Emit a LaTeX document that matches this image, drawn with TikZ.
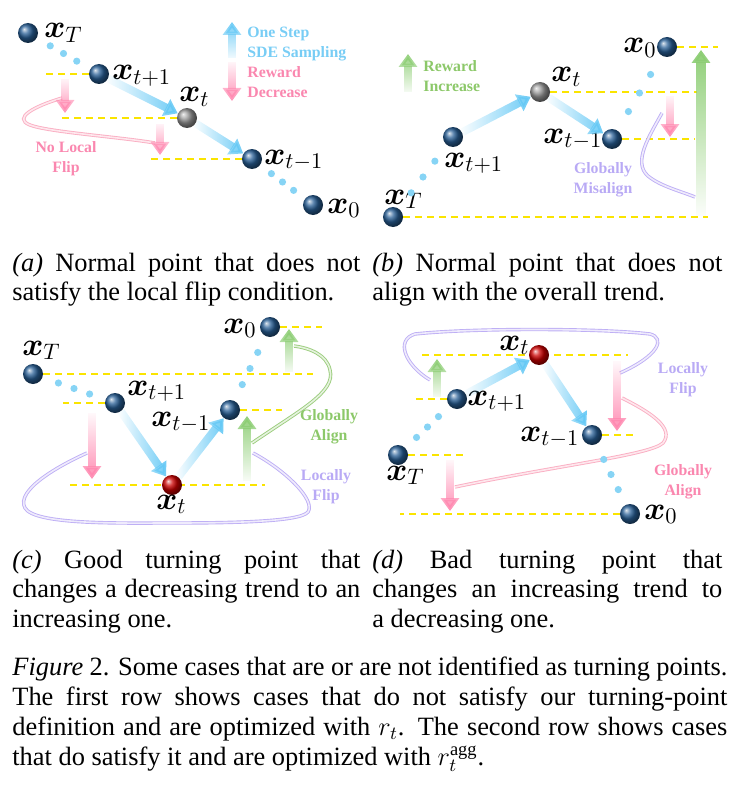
\RequirePackage{fix-cm}
\documentclass[tikz,border=0pt]{standalone}
\usepackage{amsmath}
\usepackage[no-math]{fontspec}
\setmainfont{Liberation Serif}
\usetikzlibrary{arrows.meta,fadings,backgrounds}

\definecolor{ballblue}{RGB}{40,95,150}
\definecolor{dotblue}{RGB}{135,212,245}
\definecolor{stepblue}{RGB}{100,200,245}
\definecolor{downpink}{RGB}{255,135,175}
\definecolor{upgreen}{RGB}{140,205,115}
\definecolor{lineyellow}{RGB}{250,228,0}
\definecolor{flipviolet}{RGB}{190,175,245}
\definecolor{curvepink}{RGB}{250,175,195}
\definecolor{curvegreen}{RGB}{155,205,125}
\definecolor{txtblue}{RGB}{120,205,245}
\definecolor{txtpink}{RGB}{250,135,175}
\definecolor{txtgreen}{RGB}{140,200,105}
\definecolor{txtviolet}{RGB}{185,170,245}

\tikzfading[name=fadeleft, left color=transparent!100, right color=transparent!0]
\tikzfading[name=fadetop, top color=transparent!100, bottom color=transparent!0]
\tikzfading[name=fadebottom, top color=transparent!0, bottom color=transparent!100]

\begin{document}
\begin{tikzpicture}[x=0.5pt, y=-0.5pt,
	xball/.style={circle, inner sep=0pt, minimum size=10pt, ball color=ballblue},
	midball/.style={xball, ball color=gray!80},
	turnball/.style={xball, ball color=red!80!black},
	minidot/.style={circle, inner sep=0pt, minimum size=3.6pt, fill=dotblue},
	xlab/.style={inner sep=0pt, anchor=base west, font=\fontsize{16}{18}\selectfont},
	cuetext/.style={inner sep=0pt, align=center, font=\fontsize{7.9}{10}\selectfont\bfseries},
	levelline/.style={lineyellow, line width=1.1pt, dash pattern=on 3.5pt off 2.5pt},
	stepline/.style={stepblue, line width=4pt, -{Triangle[width=9pt,length=6.5pt]}, path fading=fadeleft, fading transform={yscale=1.5}},
	droparrow/.style={downpink, line width=4pt, -{Triangle[width=9pt,length=6.5pt]}, path fading=fadetop, fading transform={xscale=4}},
	risearrow/.style={upgreen, line width=4pt, -{Triangle[width=9pt,length=6.5pt]}, path fading=fadebottom, fading transform={xscale=4}},
	flipcurve/.style={flipviolet, line width=0.45pt, double=flipviolet!25, double distance=0.8pt},
	pinkcurve/.style={flipcurve, curvepink, double=curvepink!30},
	greencurve/.style={flipcurve, curvegreen, double=curvegreen!25},
	subcap/.style={inner sep=0pt, anchor=north west, align=justify, font=\fontsize{13.2}{14.6}\selectfont}]
	\useasboundingbox (0,0) rectangle (740,797);

	% (a) no local flip
	\node (aT)  at ( 28,  33)	[xball]		{};
	\node (at1) at ( 99,  74)	[xball]		{};
	\node (at)  at (187, 118)	[midball]	{};
	\node (atm) at (252, 159)	[xball]		{};
	\node (a0)  at (313, 205)	[xball]		{};
	\node (aTl)  at ( 44,  38)	[xlab]	{$\boldsymbol{x}_{T}$};
	\node (at1l) at (112,  80)	[xlab]	{$\boldsymbol{x}_{t+1}$};
	\node (atl)  at (179, 102)	[xlab]	{$\boldsymbol{x}_{t}$};
	\node (atml) at (264, 164)	[xlab]	{$\boldsymbol{x}_{t-1}$};
	\node (a0l)  at (327, 213)	[xlab]	{$\boldsymbol{x}_{0}$};
	\coordinate (ad1) at ( 65,  79);	\coordinate (ad1e) at ( 65, 113);
	\coordinate (ad2) at (160, 124);	\coordinate (ad2e) at (160, 155);
	\coordinate (lup) at (232,  58);	\coordinate (lupe) at (232,  22);
	\coordinate (ldn) at (232,  62);	\coordinate (ldne) at (232, 101);
	\coordinate (ac1) at ( 62,  98);	\coordinate (ac2) at (155, 143);
	\node (lstep) at (247, 27)	[cuetext, anchor=north west, align=left, text=txtblue]	{One Step\\SDE Sampling};
	\node (lrew)  at (247, 66)	[cuetext, anchor=north west, align=left, text=txtpink]	{Reward\\Decrease};
	\node (aflip) at ( 66,141)	[cuetext, anchor=north, text=txtpink]	{No Local\\Flip};

	% (b) globally misaligned
	\node (bT)  at (393, 217)	[xball]		{};
	\node (bt1) at (453, 137)	[xball]		{};
	\node (bt)  at (540,  92)	[midball]	{};
	\node (btm) at (612, 139)	[xball]		{};
	\node (b0)  at (667,  47)	[xball]		{};
	\node (bTl)  at (384, 204)	[xlab]	{$\boldsymbol{x}_{T}$};
	\node (bt1l) at (444, 167)	[xlab]	{$\boldsymbol{x}_{t+1}$};
	\node (btl)  at (551,  82)	[xlab]	{$\boldsymbol{x}_{t}$};
	\node (btml) at (543, 143)	[xlab]	{$\boldsymbol{x}_{t-1}$};
	\node (b0l)  at (623,  53)	[xlab]	{$\boldsymbol{x}_{0}$};
	\coordinate (bd1) at (670,  96);	\coordinate (bd1e) at (670, 137);
	\coordinate (bg1) at (701, 216);	\coordinate (bg1e) at (701,  50);
	\coordinate (lg)  at (408,  92);	\coordinate (lge)  at (408,  54);
	\coordinate (bc1) at (662, 113);	\coordinate (bc2) at (695, 197);
	\node (linc)  at (423, 60)	[cuetext, anchor=north west, align=left, text=txtgreen]	{Reward\\Increase};
	\node (bmis)  at (603,162)	[cuetext, anchor=north, text=txtviolet]	{Globally\\Misalign};

	% (c) good turning point
	\node (cT)  at ( 33, 374)	[xball]		{};
	\node (ct1) at (115, 403)	[xball]		{};
	\node (ct)  at (172, 485)	[turnball]	{};
	\node (ctm) at (230, 410)	[xball]		{};
	\node (c0)  at (270, 327)	[xball]		{};
	\node (cTl)  at ( 22, 355)	[xlab]	{$\boldsymbol{x}_{T}$};
	\node (ct1l) at (127, 395)	[xlab]	{$\boldsymbol{x}_{t+1}$};
	\node (ctl)  at (156, 509)	[xlab]	{$\boldsymbol{x}_{t}$};
	\node (ctml) at (151, 426)	[xlab]	{$\boldsymbol{x}_{t-1}$};
	\node (c0l)  at (223, 333)	[xlab]	{$\boldsymbol{x}_{0}$};
	\coordinate (cd1) at ( 92, 413);	\coordinate (cd1e) at ( 92, 479);
	\coordinate (cg1) at (247, 481);	\coordinate (cg1e) at (247, 416);
	\coordinate (cg2) at (289, 372);	\coordinate (cg2e) at (289, 329);
	\coordinate (cc1) at (252, 443);	\coordinate (cc2) at (294, 346);
	\coordinate (cf1) at ( 87, 453);	\coordinate (cf2) at (253, 453);
	\node (calign) at (329,409)	[cuetext, anchor=north, text=txtgreen]	{Globally\\Align};
	\node (cflip)  at (326,469)	[cuetext, anchor=north, text=txtviolet]	{Locally\\Flip};

	% (d) bad turning point
	\node (dT)  at (398, 455)	[xball]		{};
	\node (dt1) at (457, 399)	[xball]		{};
	\node (dt)  at (539, 355)	[turnball]	{};
	\node (dtm) at (592, 435)	[xball]		{};
	\node (d0)  at (630, 514)	[xball]		{};
	\node (dTl)  at (386, 480)	[xlab]	{$\boldsymbol{x}_{T}$};
	\node (dt1l) at (467, 405)	[xlab]	{$\boldsymbol{x}_{t+1}$};
	\node (dtl)  at (499, 350)	[xlab]	{$\boldsymbol{x}_{t}$};
	\node (dtml) at (520, 441)	[xlab]	{$\boldsymbol{x}_{t-1}$};
	\node (d0l)  at (644, 519)	[xlab]	{$\boldsymbol{x}_{0}$};
	\coordinate (dg1) at (437, 397);	\coordinate (dg1e) at (437, 359);
	\coordinate (dd1) at (617, 361);	\coordinate (dd1e) at (617, 431);
	\coordinate (dd2) at (450, 460);	\coordinate (dd2e) at (450, 511);
	\coordinate (df1) at (430, 380);	\coordinate (df2) at (620, 373);
	\coordinate (dc1) at (622, 398);	\coordinate (dc2) at (455, 487);
	\node (dflip)  at (683,362)	[cuetext, anchor=north, text=txtviolet]	{Locally\\Flip};
	\node (dalign) at (683,464)	[cuetext, anchor=north, text=txtpink]	{Globally\\Align};

	% sampling dots
	\foreach \s/\k in {0.25/1,0.5/2,0.75/3} {
		\path (aT) -- (at1) node[pos=\s, minidot] (aTd\k) {};
		\path (atm) -- (a0) node[pos=\s, minidot] (a0d\k) {};
		\path (bT) -- (bt1) node[pos=\s, minidot] (bTd\k) {};
		\path (btm) -- (b0) node[pos=\s, minidot] (b0d\k) {};
		\path (cT) -- (ct1) node[pos=\s, minidot] (cTd\k) {};
		\path (ctm) -- (c0) node[pos=\s, minidot] (c0d\k) {};
		\path (dT) -- (dt1) node[pos=\s, minidot] (dTd\k) {};
		\path (dtm) -- (d0) node[pos=\s, minidot] (d0d\k) {};
	}

	\begin{pgfonlayer}{background}
	% reward levels
	\draw[levelline] (at1) -- (at1 -| 43,0);
	\draw[levelline] (at) -- (at -| 58,0);
	\draw[levelline] (atm) -- (atm -| 150,0);
	\draw[levelline] (b0) -- (b0 -| 718,0);
	\draw[levelline] (bt) -- (bt -| 697,0);
	\draw[levelline] (btm) -- (btm -| 695,0);
	\draw[levelline] (bT) -- (bT -| 708,0);
	\draw[levelline] (cT) -- (cT -| 313,0);
	\draw[levelline] (ct1) -- (ct1 -| 63,0);
	\draw[levelline] (ctm) -- (ctm -| 282,0);
	\draw[levelline] (ct -| 70,0) -- (ct -| 265,0);
	\draw[levelline] (c0) -- (c0 -| 322,0);
	\draw[levelline] (dt -| 422,0) -- (dt -| 628,0);
	\draw[levelline] (dt1) -- (dt1 -| 412,0);
	\draw[levelline] (dtm) -- (dtm -| 637,0);
	\draw[levelline] (dT) -- (dT -| 465,0);
	\draw[levelline] (d0) -- (d0 -| 400,0);
	% flip and align curves
	\draw[pinkcurve] (ac1) .. controls (35,106) and (12,118) .. (30,125) .. controls (48,132) and (120,137) .. (ac2);
	\draw[flipcurve] (bc1) .. controls (650,135) and (632,162) .. (648,176) .. controls (660,186) and (680,191) .. (bc2);
	\draw[greencurve] (cc1) .. controls (300,410) and (336,392) .. (330,370) .. controls (327,355) and (310,348) .. (cc2);
	\draw[flipcurve] (cf1) .. controls (60,465) and (15,490) .. (25,508) .. controls (35,525) and (120,523) .. (170,523) .. controls (230,523) and (300,522) .. (308,512) .. controls (316,500) and (285,470) .. (cf2);
	\draw[flipcurve] (df1) .. controls (405,365) and (395,340) .. (415,334) .. controls (470,328) and (600,328) .. (650,334) .. controls (665,338) and (660,355) .. (df2);
	\draw[pinkcurve] (dc1) .. controls (650,412) and (675,428) .. (663,443) .. controls (650,455) and (560,465) .. (dc2);
	\end{pgfonlayer}

	% sampling steps
	\draw[stepline] (at1) -- (at);
	\draw[stepline] (at) -- (atm);
	\draw[stepline] (bt1) -- (bt);
	\draw[stepline] (bt) -- (btm);
	\draw[stepline] (ct1) -- (ct);
	\draw[stepline] (ct) -- (ctm);
	\draw[stepline] (dt1) -- (dt);
	\draw[stepline] (dt) -- (dtm);
	% reward changes
	\draw[risearrow, stepblue] (lup) -- (lupe);
	\draw[droparrow] (ldn) -- (ldne);
	\draw[droparrow] (ad1) -- (ad1e);
	\draw[droparrow] (ad2) -- (ad2e);
	\draw[risearrow] (lg) -- (lge);
	\draw[droparrow] (bd1) -- (bd1e);
	\draw[risearrow, line width=5pt] (bg1) -- (bg1e);
	\draw[droparrow] (cd1) -- (cd1e);
	\draw[risearrow] (cg1) -- (cg1e);
	\draw[risearrow] (cg2) -- (cg2e);
	\draw[risearrow] (dg1) -- (dg1e);
	\draw[droparrow] (dd1) -- (dd1e);
	\draw[droparrow] (dd2) -- (dd2e);

	% captions
	\node (capa) at ( 12,253)	[subcap, text width=174pt]	{\textit{(a)} Normal point that does not\linebreak satisfy the local flip condition.};
	\node (capb) at (372,253)	[subcap, text width=175pt]	{\textit{(b)} Normal point that does not\linebreak align with the overall trend.};
	\node (capc) at ( 12,550)	[subcap, text width=174pt]	{\textit{(c)} Good turning point that\linebreak changes a decreasing trend to an\linebreak increasing one.};
	\node (capd) at (372,550)	[subcap, text width=175pt]	{\textit{(d)} Bad turning point that\linebreak changes an increasing trend to\linebreak a decreasing one.};
	\node (capfig) at (12,657)	[subcap, text width=357.5pt, font=\fontsize{13.2}{14.9}\selectfont]	{\textit{Figure} 2. Some cases that are or are not identified as turning points.\linebreak The first row shows cases that do not satisfy our turning-point\linebreak definition and are optimized with $r_t$. The second row shows cases\linebreak that do satisfy it and are optimized with $r_t^{\smash{\text{agg}}}$.};
\end{tikzpicture}
\end{document}
